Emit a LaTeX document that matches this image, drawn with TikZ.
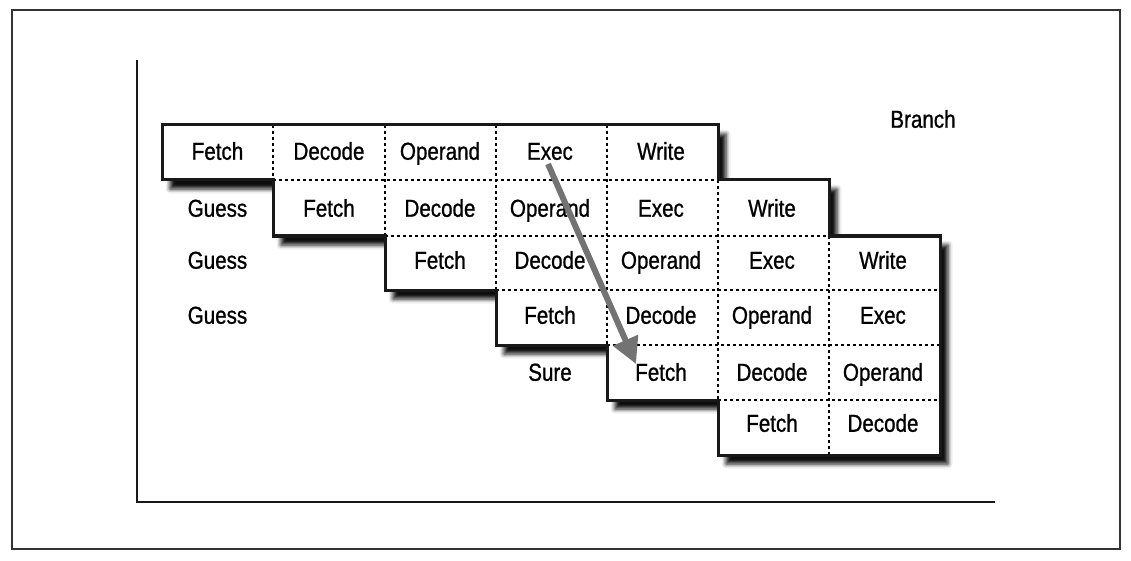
\documentclass[tikz,border=0pt]{standalone}
\usepackage{fontspec}
\setmainfont{Liberation Sans}[FakeStretch=0.84,FakeBold=0.9]
\usetikzlibrary{shadows.blur,arrows.meta}
\begin{document}
\begin{tikzpicture}[x=1pt,y=-1pt,
  cell/.style={font=\fontsize{24.5}{28}\selectfont, text=black, inner sep=0pt, anchor=center, text height=17.5pt, text depth=0pt},
  grid/.style={line width=1.3pt, dash pattern=on 3pt off 3pt, black},
  outline/.style={line width=3pt, black!90, line join=miter},
  axis/.style={line width=2.8pt, black!90},
  jump/.style={draw=black!55, line width=6pt, -{Triangle[length=26pt,width=26pt]}}]
\useasboundingbox (0,0) rectangle (1131,561);
\draw[line width=1.4pt, black!80] (12,10) rectangle (1120,549);
\draw[axis] (137,60) -- (137,502) -- (995,502);
% staircase
\path[fill=white, blur shadow={shadow xshift=8pt, shadow yshift=-9pt, shadow blur radius=4.5pt, shadow opacity=95}]
  (162,125) -- (718,125) -- (718,180) -- (829,180) -- (829,236) -- (940,236) -- (940,455)
  -- (718,455) -- (718,400) -- (607,400) -- (607,345) -- (496,345) -- (496,290)
  -- (385,290) -- (385,236) -- (273,236) -- (273,180) -- (162,180) -- cycle;
% dashed grid
\draw[grid] (273,180) -- (718,180);
\draw[grid] (385,236) -- (829,236);
\draw[grid] (496,290) -- (940,290);
\draw[grid] (607,345) -- (940,345);
\draw[grid] (718,400) -- (940,400);
\draw[grid] (273,125) -- (273,180);
\draw[grid] (385,125) -- (385,236);
\draw[grid] (496,125) -- (496,290);
\draw[grid] (607,125) -- (607,345);
\draw[grid] (718,180) -- (718,400);
\draw[grid] (829,236) -- (829,455);
\draw[outline]
  (162,125) -- (718,125) -- (718,180) -- (829,180) -- (829,236) -- (940,236) -- (940,455)
  -- (718,455) -- (718,400) -- (607,400) -- (607,345) -- (496,345) -- (496,290)
  -- (385,290) -- (385,236) -- (273,236) -- (273,180) -- (162,180) -- cycle;
% row 0
\node[cell] (r0c0) at (217.5,151) {Fetch};
\node[cell] (r0c1) at (329,151) {Decode};
\node[cell] (r0c2) at (440,151) {Operand};
\node[cell] (r0c3) at (550,151) {Exec};
\node[cell] (r0c4) at (661,151) {Write};
% row 1
\node[cell] (r1c0) at (217.5,208) {Guess};
\node[cell] (r1c1) at (329,208) {Fetch};
\node[cell] (r1c2) at (440,208) {Decode};
\node[cell] (r1c3) at (550,208) {Operand};
\node[cell] (r1c4) at (661,208) {Exec};
\node[cell] (r1c5) at (772,208) {Write};
% row 2
\node[cell] (r2c0) at (217.5,260) {Guess};
\node[cell] (r2c2) at (440,260) {Fetch};
\node[cell] (r2c3) at (550,260) {Decode};
\node[cell] (r2c4) at (661,260) {Operand};
\node[cell] (r2c5) at (772,260) {Exec};
\node[cell] (r2c6) at (883,260) {Write};
% row 3
\node[cell] (r3c0) at (217.5,315) {Guess};
\node[cell] (r3c3) at (550,315) {Fetch};
\node[cell] (r3c4) at (661,315) {Decode};
\node[cell] (r3c5) at (772,315) {Operand};
\node[cell] (r3c6) at (883,315) {Exec};
% row 4
\node[cell] (r4c3) at (550,372) {Sure};
\node[cell] (r4c4) at (661,372) {Fetch};
\node[cell] (r4c5) at (772,372) {Decode};
\node[cell] (r4c6) at (883,372) {Operand};
% row 5
\node[cell] (r5c5) at (772,423) {Fetch};
\node[cell] (r5c6) at (883,423) {Decode};
\node[cell] (branch) at (923,119) {Branch};
% arrow
\coordinate (arrS) at (548,164);
\coordinate (arrE) at (636,364);
\draw[jump] (arrS) -- (arrE);
\end{tikzpicture}
\end{document}
